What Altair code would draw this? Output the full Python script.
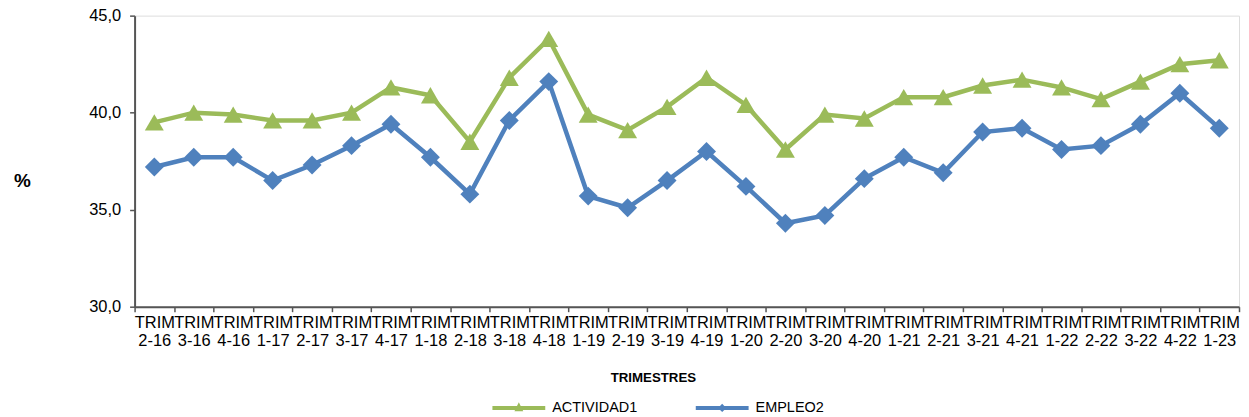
import altair as alt
import pandas as pd

categories = ["TRIM 2-16", "TRIM 3-16", "TRIM 4-16", "TRIM 1-17", "TRIM 2-17", "TRIM 3-17", "TRIM 4-17",
              "TRIM 1-18", "TRIM 2-18", "TRIM 3-18", "TRIM 4-18", "TRIM 1-19", "TRIM 2-19", "TRIM 3-19",
              "TRIM 4-19", "TRIM 1-20", "TRIM 2-20", "TRIM 3-20", "TRIM 4-20", "TRIM 1-21", "TRIM 2-21",
              "TRIM 3-21", "TRIM 4-21", "TRIM 1-22", "TRIM 2-22", "TRIM 3-22", "TRIM 4-22", "TRIM 1-23"]
actividad = [39.5, 40.0, 39.9, 39.6, 39.6, 40.0, 41.3, 40.9, 38.5, 41.8, 43.8, 39.9, 39.1, 40.3,
             41.8, 40.4, 38.1, 39.9, 39.7, 40.8, 40.8, 41.4, 41.7, 41.3, 40.7, 41.6, 42.5, 42.7]
empleo = [37.2, 37.7, 37.7, 36.5, 37.3, 38.3, 39.4, 37.7, 35.8, 39.6, 41.6, 35.7, 35.1, 36.5,
          38.0, 36.2, 34.3, 34.7, 36.6, 37.7, 36.9, 39.0, 39.2, 38.1, 38.3, 39.4, 41.0, 39.2]
series = ["ACTIVIDAD1", "EMPLEO2"]
colors = ["#9BBB59", "#4F81BD"]
y_ticks = [30, 35, 40, 45]

rows = []
for c, a, e in zip(categories, actividad, empleo):
    rows.append({"trim": c, "serie": series[0], "valor": a})
    rows.append({"trim": c, "serie": series[1], "valor": e})
df = pd.DataFrame(rows)

FONT = "Liberation Sans"

x_enc = alt.X(
    "trim:N",
    sort=categories,
    bandPosition=0.5,
    scale=alt.Scale(type="band", paddingInner=0, paddingOuter=0),
    axis=alt.Axis(
        title="TRIMESTRES",
        labelExpr="split(datum.label, ' ')",
        labelAngle=0,
        labelFontSize=16.5,
        labelLineHeight=18,
        labelPadding=3,
        labelColor="#000000",
        labelFont=FONT,
        tickBand="extent",
        tickSize=5,
        tickColor="#555555",
        tickWidth=1.5,
        domainColor="#555555",
        domainWidth=2,
        titleFont=FONT,
        titleFontSize=13.3,
        titleFontWeight="bold",
        titleColor="#000000",
        titleX=520,
        titleY=71,
        titleAlign="center",
        titleBaseline="middle",
        grid=False,
    ),
)

y_enc = alt.Y(
    "valor:Q",
    scale=alt.Scale(domain=[30, 45], nice=False, zero=False),
    axis=alt.Axis(
        title="%",
        values=y_ticks,
        labelExpr="replace(format(datum.value, '.1f'), '.', ',')",
        labelFontSize=16.5,
        labelFont=FONT,
        labelColor="#000000",
        labelPadding=9,
        tickSize=5,
        tickColor="#555555",
        tickWidth=1.5,
        domainColor="#555555",
        domainWidth=2,
        titleFont=FONT,
        titleFontSize=19,
        titleFontWeight="bold",
        titleColor="#000000",
        titleAngle=0,
        titleX=-113,
        titleY=165,
        titleAlign="center",
        titleBaseline="middle",
        grid=False,
    ),
)

lines = alt.Chart(df).mark_line(strokeWidth=4.5).encode(
    x=x_enc,
    y=y_enc,
    color=alt.Color("serie:N", scale=alt.Scale(domain=series, range=colors), legend=None),
    detail="serie:N",
)

points = alt.Chart(df).mark_point(filled=True, opacity=1, size=360).encode(
    x=x_enc,
    y=y_enc,
    color=alt.Color("serie:N", scale=alt.Scale(domain=series, range=colors), legend=None),
    shape=alt.Shape("serie:N", scale=alt.Scale(domain=series, range=["triangle-up", "diamond"]), legend=None),
)

legend_paths = [
    "M-1,0L1,0M-0.045,0.04L0,-0.05L0.045,0.04Z",
    "M-1,0L1,0M0,-0.05L0.05,0L0,0.05L-0.05,0Z",
]

legend_props = dict(
    title=None,
    orient="none",
    direction="horizontal",
    legendX=357,
    legendY=365,
    labelFont=FONT,
    labelFontSize=14.5,
    labelColor="#000000",
    labelOffset=5,
    columnPadding=50,
    padding=0,
    symbolSize=2809,
    symbolStrokeWidth=4,
    symbolOpacity=1,
)

legend_layer = alt.Chart(df).transform_filter("false").mark_point(filled=False, opacity=1).encode(
    x=x_enc,
    y=y_enc,
    color=alt.Color("serie:N", scale=alt.Scale(domain=series, range=colors), legend=alt.Legend(**legend_props)),
    shape=alt.Shape(
        "serie:N",
        scale=alt.Scale(domain=series, range=legend_paths),
        legend=alt.Legend(**legend_props),
    ),
)

chart = (
    alt.layer(lines, points, legend_layer)
    .resolve_scale(shape="independent", color="independent")
    .properties(
        width=1108,
        height=292,
        autosize=alt.AutoSizeParams(type="none"),
        padding={"left": 127, "top": 7, "right": 2, "bottom": 110},
    )
    .configure_view(stroke="#8C8C8C", strokeWidth=2)
    .configure(font=FONT, background="#FFFFFF")
)

chart.save("out.html", embed_options={"renderer": "svg", "actions": False})
